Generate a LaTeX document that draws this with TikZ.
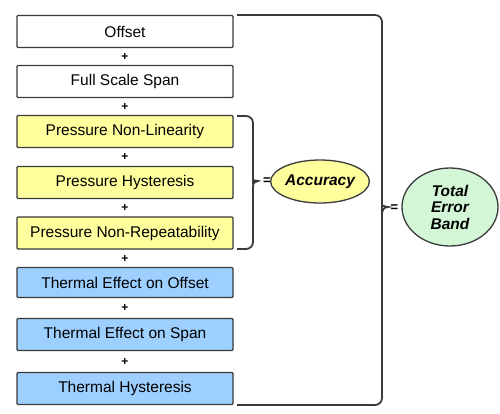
\documentclass[tikz,border=0pt]{standalone}
\usepackage{fontspec}
\setmainfont{Liberation Sans}
\usetikzlibrary{shapes.geometric,calc}
\definecolor{boxyellow}{HTML}{FFFF9E}
\definecolor{boxblue}{HTML}{9DCFFF}
\definecolor{ovalgreen}{HTML}{D3F6D6}
\definecolor{edgegray}{HTML}{3A3A3A}
\tikzset{
  termbox/.style={draw=edgegray, line width=1.3pt, rounded corners=1pt,
    minimum width=216pt, minimum height=32pt, inner sep=0pt,
    font=\fontsize{15.5}{18}\selectfont},
  whitebox/.style={termbox, fill=white},
  yellowbox/.style={termbox, fill=boxyellow},
  bluebox/.style={termbox, fill=boxblue},
  plussign/.style={font=\fontsize{12}{12}\selectfont\bfseries, inner sep=0pt},
  eqsign/.style={font=\fontsize{13}{13}\selectfont\bfseries, inner sep=0pt},
  bracepath/.style={draw=edgegray, line width=1.8pt, rounded corners=7pt},
  resultoval/.style={ellipse, draw=edgegray, line width=1.3pt, inner sep=0pt,
    font=\fontsize{15.5}{16.5}\selectfont\bfseries\itshape, align=center}
}
\begin{document}
\begin{tikzpicture}[x=1pt, y=-1pt]
\useasboundingbox (0,0) rectangle (500,414);
% boxes
\node[whitebox]  (b1) at (125,31.5)  {Offset};
\node[whitebox]  (b2) at (125,81.5)  {Full Scale Span};
\node[yellowbox] (b3) at (125,131.5) {Pressure Non-Linearity};
\node[yellowbox] (b4) at (125,182.5) {Pressure Hysteresis};
\node[yellowbox] (b5) at (125,233)   {Pressure Non-Repeatability};
\node[bluebox, minimum height=30pt] (b6) at (125,282.5) {Thermal Effect on Offset};
\node[bluebox]   (b7) at (125,334.5) {Thermal Effect on Span};
\node[bluebox]   (b8) at (125,388.5) {Thermal Hysteresis};
% plus signs
\node[plussign] (p1) at (125,56.5)  {+};
\node[plussign] (p2) at (125,107)   {+};
\node[plussign] (p3) at (125,157)   {+};
\node[plussign] (p4) at (125,208)   {+};
\node[plussign] (p5) at (125,258.5) {+};
\node[plussign] (p6) at (125,307.5) {+};
\node[plussign] (p7) at (125,362)   {+};
% small brace
\coordinate (sbtop) at (237,116);
\coordinate (sbbot) at (237,249);
\draw[bracepath] (sbtop) -- (253,116) -- (253,175)
  [sharp corners] .. controls (253,179) and (255,181) .. (258,181)
  .. controls (255,181) and (253,183) .. (253,187)
  [rounded corners=7pt] -- (253,249) -- (sbbot);
\node[eqsign] (eq1) at (267,181.5) {=};
\node[resultoval, fill=boxyellow, minimum width=89pt, minimum height=43pt] (acc) at (320,181.5) {Accuracy};
% big brace
\coordinate (bbtop) at (237,15);
\coordinate (bbbot) at (237,405);
\draw[bracepath] (bbtop) -- (382,15) -- (382,200)
  [sharp corners] .. controls (382,204) and (384,207) .. (388,207)
  .. controls (384,207) and (382,210) .. (382,214)
  [rounded corners=7pt] -- (382,405) -- (bbbot);
\node[eqsign] (eq2) at (394.5,208) {=};
\node[resultoval, fill=ovalgreen, minimum width=96pt, minimum height=78pt] (teb) at (450,207) {Total\\Error\\Band};
\end{tikzpicture}
\end{document}
